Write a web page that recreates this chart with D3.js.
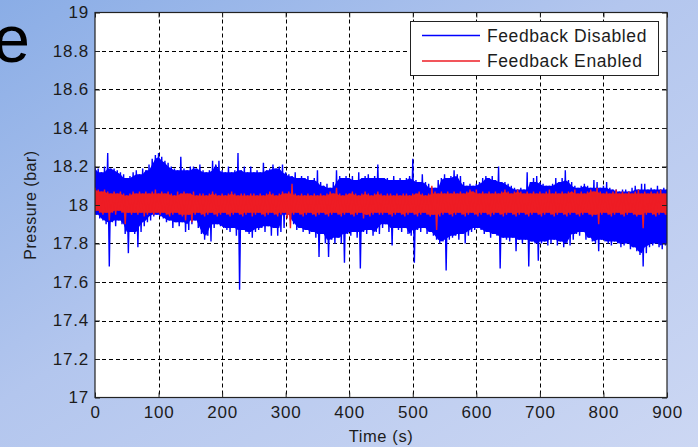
<!DOCTYPE html>
<html>
<head>
<meta charset="utf-8">
<script src="https://cdn.jsdelivr.net/npm/d3@7"></script>
<style>
  html, body { margin: 0; padding: 0; }
  body { width: 698px; height: 447px; overflow: hidden; }
  text { font-family: Arial, "Liberation Sans", sans-serif; }
</style>
</head>
<body>
<div id="chart"></div>
<script>
// sample times (s), one bin every 5 s
const sampleTimes = d3.range(0, 901, 5);

// feedback disabled: upper / lower envelope per 5 s bin (bar)
const disabledHi = [
  18.20, 18.19, 18.17, 18.20, 18.27, 18.19, 18.19, 18.18, 18.17, 18.16,
  18.14, 18.15, 18.17, 18.18, 18.16, 18.19, 18.18, 18.21, 18.24, 18.26,
  18.27, 18.25, 18.23, 18.22, 18.20, 18.19, 18.18, 18.25, 18.19, 18.18,
  18.20, 18.20, 18.19, 18.21, 18.18, 18.17, 18.18, 18.23, 18.21, 18.23,
  18.18, 18.17, 18.20, 18.17, 18.18, 18.27, 18.18, 18.20, 18.17, 18.20,
  18.17, 18.18, 18.17, 18.22, 18.18, 18.19, 18.21, 18.19, 18.20, 18.21,
  18.17, 18.16, 18.15, 18.17, 18.14, 18.15, 18.14, 18.15, 18.13, 18.14,
  18.18, 18.12, 18.10, 18.11, 18.09, 18.12, 18.18, 18.15, 18.14, 18.15,
  18.14, 18.15, 18.13, 18.17, 18.14, 18.15, 18.16, 18.14, 18.15, 18.21,
  18.14, 18.14, 18.14, 18.13, 18.15, 18.13, 18.14, 18.13, 18.14, 18.15,
  18.24, 18.13, 18.12, 18.16, 18.12, 18.11, 18.09, 18.09, 18.13, 18.14,
  18.16, 18.14, 18.15, 18.18, 18.16, 18.15, 18.12, 18.10, 18.11, 18.10,
  18.11, 18.12, 18.14, 18.15, 18.14, 18.15, 18.13, 18.20, 18.12, 18.12,
  18.11, 18.10, 18.09, 18.08, 18.09, 18.08, 18.17, 18.12, 18.14, 18.15,
  18.12, 18.11, 18.10, 18.10, 18.11, 18.14, 18.12, 18.14, 18.18, 18.13,
  18.12, 18.10, 18.09, 18.10, 18.11, 18.10, 18.09, 18.13, 18.12, 18.09,
  18.10, 18.12, 18.09, 18.08, 18.08, 18.07, 18.08, 18.08, 18.07, 18.09,
  18.10, 18.08, 18.11, 18.11, 18.08, 18.09, 18.08, 18.10, 18.08, 18.09,
  18.08
];
const disabledLo = [
  17.95, 17.93, 17.92, 17.90, 17.68, 17.91, 17.89, 17.92, 17.90, 17.85,
  17.75, 17.86, 17.85, 17.78, 17.86, 17.89, 17.91, 17.92, 17.94, 17.95,
  17.94, 17.93, 17.91, 17.92, 17.88, 17.91, 17.89, 17.91, 17.86, 17.87,
  17.90, 17.92, 17.88, 17.85, 17.82, 17.84, 17.81, 17.88, 17.90, 17.89,
  17.88, 17.87, 17.86, 17.88, 17.84, 17.56, 17.87, 17.86, 17.85, 17.83,
  17.86, 17.87, 17.88, 17.86, 17.89, 17.84, 17.88, 17.84, 17.86, 17.88,
  17.95, 17.92, 17.90, 17.87, 17.88, 17.86, 17.87, 17.85, 17.86, 17.83,
  17.73, 17.85, 17.80, 17.73, 17.82, 17.80, 17.83, 17.80, 17.70, 17.85,
  17.84, 17.86, 17.83, 17.67, 17.86, 17.85, 17.87, 17.84, 17.86, 17.85,
  17.88, 17.90, 17.86, 17.79, 17.88, 17.87, 17.86, 17.88, 17.85, 17.84,
  17.70, 17.87, 17.86, 17.88, 17.85, 17.86, 17.84, 17.82, 17.80, 17.81,
  17.66, 17.82, 17.83, 17.84, 17.82, 17.85, 17.80, 17.84, 17.86, 17.87,
  17.88, 17.87, 17.85, 17.86, 17.83, 17.85, 17.84, 17.67, 17.83, 17.82,
  17.81, 17.83, 17.76, 17.82, 17.80, 17.82, 17.68, 17.81, 17.80, 17.71,
  17.80, 17.81, 17.79, 17.80, 17.82, 17.79, 17.81, 17.78, 17.80, 17.79,
  17.82, 17.85, 17.84, 17.86, 17.82, 17.83, 17.81, 17.80, 17.76, 17.82,
  17.81, 17.80, 17.79, 17.81, 17.80, 17.78, 17.79, 17.80, 17.77, 17.78,
  17.76, 17.74, 17.68, 17.75, 17.78, 17.79, 17.80, 17.78, 17.77, 17.79,
  17.80
];

// feedback enabled: upper / lower envelope per 5 s bin (bar)
const enabledHi = [
  18.09, 18.08, 18.07, 18.08, 18.07, 18.06, 18.07, 18.06, 18.07, 18.06,
  18.05, 18.06, 18.07, 18.06, 18.07, 18.06, 18.07, 18.06, 18.07, 18.08,
  18.06, 18.07, 18.06, 18.07, 18.06, 18.05, 18.07, 18.06, 18.07, 18.06,
  18.06, 18.07, 18.05, 18.06, 18.06, 18.05, 18.06, 18.07, 18.06, 18.05,
  18.06, 18.05, 18.06, 18.07, 18.06, 18.05, 18.06, 18.06, 18.05, 18.06,
  18.06, 18.05, 18.06, 18.05, 18.06, 18.07, 18.06, 18.05, 18.06, 18.07,
  18.06, 18.07, 18.11, 18.06, 18.05, 18.06, 18.05, 18.06, 18.05, 18.06,
  18.05, 18.06, 18.05, 18.06, 18.07, 18.06, 18.09, 18.06, 18.05, 18.06,
  18.06, 18.07, 18.06, 18.05, 18.06, 18.07, 18.06, 18.05, 18.06, 18.07,
  18.06, 18.05, 18.06, 18.06, 18.05, 18.06, 18.05, 18.06, 18.06, 18.05,
  18.06, 18.06, 18.07, 18.06, 18.05, 18.06, 18.10, 18.07, 18.06, 18.07,
  18.06, 18.07, 18.06, 18.07, 18.06, 18.07, 18.06, 18.07, 18.08, 18.07,
  18.08, 18.06, 18.07, 18.06, 18.07, 18.06, 18.07, 18.06, 18.07, 18.08,
  18.07, 18.06, 18.07, 18.08, 18.07, 18.06, 18.07, 18.06, 18.07, 18.06,
  18.07, 18.06, 18.07, 18.08, 18.06, 18.07, 18.06, 18.07, 18.06, 18.07,
  18.07, 18.08, 18.06, 18.07, 18.06, 18.07, 18.08, 18.07, 18.09, 18.07,
  18.06, 18.07, 18.06, 18.07, 18.08, 18.06, 18.07, 18.06, 18.07, 18.06,
  18.07, 18.08, 18.06, 18.07, 18.06, 18.07, 18.06, 18.07, 18.08, 18.06,
  18.06
];
const enabledLo = [
  17.97, 17.96, 17.95, 17.96, 17.92, 17.96, 17.95, 17.97, 17.96, 17.90,
  17.96, 17.95, 17.96, 17.95, 17.96, 17.94, 17.95, 17.96, 17.95, 17.96,
  17.95, 17.96, 17.95, 17.94, 17.95, 17.96, 17.95, 17.94, 17.92, 17.95,
  17.91, 17.95, 17.96, 17.95, 17.94, 17.95, 17.96, 17.95, 17.94, 17.95,
  17.96, 17.95, 17.94, 17.95, 17.96, 17.95, 17.94, 17.95, 17.96, 17.94,
  17.95, 17.96, 17.95, 17.94, 17.95, 17.96, 17.95, 17.94, 17.95, 17.96,
  17.93, 17.88, 17.95, 17.96, 17.95, 17.94, 17.95, 17.96, 17.95, 17.94,
  17.95, 17.96, 17.95, 17.94, 17.95, 17.96, 17.95, 17.94, 17.95, 17.96,
  17.95, 17.94, 17.95, 17.96, 17.93, 17.95, 17.94, 17.95, 17.96, 17.95,
  17.95, 17.96, 17.95, 17.94, 17.95, 17.96, 17.95, 17.94, 17.95, 17.96,
  17.95, 17.94, 17.95, 17.96, 17.95, 17.94, 17.95, 17.87, 17.94, 17.95,
  17.96, 17.95, 17.94, 17.95, 17.96, 17.95, 17.94, 17.95, 17.96, 17.95,
  17.94, 17.95, 17.96, 17.95, 17.94, 17.95, 17.96, 17.95, 17.94, 17.95,
  17.96, 17.95, 17.94, 17.95, 17.96, 17.95, 17.94, 17.95, 17.96, 17.95,
  17.94, 17.95, 17.96, 17.95, 17.94, 17.95, 17.96, 17.95, 17.94, 17.95,
  17.96, 17.95, 17.94, 17.95, 17.96, 17.95, 17.94, 17.95, 17.90, 17.95,
  17.96, 17.95, 17.94, 17.95, 17.96, 17.95, 17.94, 17.95, 17.96, 17.95,
  17.94, 17.95, 17.88, 17.95, 17.96, 17.95, 17.94, 17.95, 17.96, 17.95,
  17.95
];

const xTicks = [0, 100, 200, 300, 400, 500, 600, 700, 800, 900];
const yTicks = [17, 17.2, 17.4, 17.6, 17.8, 18, 18.2, 18.4, 18.6, 18.8, 19];
const seriesNames = ['Feedback Disabled', 'Feedback Enabled'];
const seriesColors = ['#0000ff', '#ee1c24'];

const width = 698;
const height = 447;
const plot = { left: 95, right: 667, top: 12.5, bottom: 397.5 };
const textColor = '#1c1c1c';

const svg = d3.select('#chart')
  .append('svg')
  .attr('width', width)
  .attr('height', height);

// slide background
const defs = svg.append('defs');
const grad = defs.append('linearGradient')
  .attr('id', 'bg')
  .attr('x1', 0).attr('y1', 0).attr('x2', 1).attr('y2', 1);
grad.append('stop').attr('offset', '0%').attr('stop-color', '#8aade6');
grad.append('stop').attr('offset', '45%').attr('stop-color', '#b3c6ee');
grad.append('stop').attr('offset', '100%').attr('stop-color', '#ccd7f3');

svg.append('rect')
  .attr('width', width)
  .attr('height', height)
  .attr('fill', 'url(#bg)');

// tail of the slide title
svg.append('text')
  .attr('x', 30)
  .attr('y', 62)
  .attr('text-anchor', 'end')
  .style('font-size', '66px')
  .attr('fill', '#000')
  .text('e');

defs.append('clipPath')
  .attr('id', 'clip')
  .append('rect')
  .attr('x', plot.left)
  .attr('y', plot.top)
  .attr('width', plot.right - plot.left)
  .attr('height', plot.bottom - plot.top);

const x = d3.scaleLinear().domain([0, 900]).range([plot.left, plot.right]);
const y = d3.scaleLinear().domain([17, 19]).range([plot.bottom, plot.top]);

svg.append('rect')
  .attr('x', plot.left)
  .attr('y', plot.top)
  .attr('width', plot.right - plot.left)
  .attr('height', plot.bottom - plot.top)
  .attr('fill', '#fff');

// dashed grid
const grid = svg.append('g')
  .attr('stroke', '#000')
  .attr('stroke-width', 1)
  .attr('stroke-dasharray', '4,3');

grid.selectAll('.gx')
  .data(xTicks.slice(1, -1))
  .enter()
  .append('line')
  .attr('x1', d => Math.round(x(d)) + 0.5)
  .attr('x2', d => Math.round(x(d)) + 0.5)
  .attr('y1', plot.top)
  .attr('y2', plot.bottom);

grid.selectAll('.gy')
  .data(yTicks.slice(1, -1))
  .enter()
  .append('line')
  .attr('y1', d => Math.round(y(d)) + 0.5)
  .attr('y2', d => Math.round(y(d)) + 0.5)
  .attr('x1', plot.left)
  .attr('x2', plot.right);

// zigzag between the upper and lower envelope of each bin
const toPoints = (hi, lo) => {
  const pts = [];
  sampleTimes.forEach((t, i) => {
    pts.push([t, hi[i]]);
    pts.push([Math.min(t + 2.5, 900), lo[i]]);
  });
  return pts;
};

// solid core of the trace: the part every neighbouring bin covers
const toCore = (hi, lo) => sampleTimes.map((t, i) => {
  const a = Math.max(0, i - 1), b = Math.min(hi.length - 1, i + 1);
  return {
    t,
    top: d3.min(hi.slice(a, b + 1)),
    bottom: d3.max(lo.slice(a, b + 1))
  };
});

const line = d3.line()
  .x(d => x(d[0]))
  .y(d => y(d[1]));

const area = d3.area()
  .x(d => x(d.t))
  .y0(d => y(d.bottom))
  .y1(d => y(d.top));

const traces = svg.append('g').attr('clip-path', 'url(#clip)');

[[disabledHi, disabledLo], [enabledHi, enabledLo]].forEach(([hi, lo], k) => {
  traces.append('path')
    .datum(toCore(hi, lo))
    .attr('d', area)
    .attr('fill', seriesColors[k]);

  traces.append('path')
    .datum(toPoints(hi, lo))
    .attr('d', line)
    .attr('fill', 'none')
    .attr('stroke', seriesColors[k])
    .attr('stroke-width', 1.4);
});

// inner ticks on all four sides
const xAxisB = d3.axisBottom(x).tickValues(xTicks).tickSize(-5).tickPadding(8.5).tickFormat(d3.format('d'));
const xAxisT = d3.axisTop(x).tickValues(xTicks).tickSize(-5).tickFormat('');
const yAxisL = d3.axisLeft(y).tickValues(yTicks).tickSize(-5).tickPadding(6).tickFormat(d => d3.format('.1~f')(d));
const yAxisR = d3.axisRight(y).tickValues(yTicks).tickSize(-5).tickFormat('');

const styleAxis = g => {
  g.select('.domain').remove();
  g.selectAll('line').attr('stroke', '#222');
  g.selectAll('text')
    .attr('fill', textColor)
    .style('font-size', '17px')
    .style('letter-spacing', '0.8px')
    .style('font-family', 'Arial, "Liberation Sans", sans-serif');
};

svg.append('g').attr('transform', `translate(0,${plot.bottom})`).call(xAxisB).call(styleAxis);
svg.append('g').attr('transform', `translate(0,${plot.top})`).call(xAxisT).call(styleAxis);
svg.append('g').attr('transform', `translate(${plot.left},0)`).call(yAxisL).call(styleAxis);
svg.append('g').attr('transform', `translate(${plot.right},0)`).call(yAxisR).call(styleAxis);

svg.append('rect')
  .attr('x', plot.left)
  .attr('y', plot.top)
  .attr('width', plot.right - plot.left)
  .attr('height', plot.bottom - plot.top)
  .attr('fill', 'none')
  .attr('stroke', '#222')
  .attr('stroke-width', 1.2);

// axis titles
svg.append('text')
  .attr('x', x(450))
  .attr('y', 442)
  .attr('text-anchor', 'middle')
  .attr('fill', textColor)
  .style('font-size', '16.5px')
  .style('letter-spacing', '0.6px')
  .text('Time (s)');

svg.append('text')
  .attr('transform', `translate(36, ${y(18)}) rotate(-90)`)
  .attr('text-anchor', 'middle')
  .attr('fill', textColor)
  .style('font-size', '16px')
  .style('letter-spacing', '0.5px')
  .text('Pressure (bar)');

// legend
const legend = svg.append('g');
legend.append('rect')
  .attr('x', 410.5)
  .attr('y', 21.5)
  .attr('width', 248)
  .attr('height', 54)
  .attr('fill', '#fff')
  .attr('stroke', '#222')
  .attr('stroke-width', 1);

const items = legend.selectAll('.item')
  .data(seriesNames)
  .enter()
  .append('g')
  .attr('transform', (d, i) => `translate(0, ${35.5 + i * 25.5})`);

items.append('line')
  .attr('x1', 422)
  .attr('x2', 480)
  .attr('stroke', (d, i) => seriesColors[i])
  .attr('stroke-width', 1.3);

items.append('text')
  .attr('x', 487)
  .attr('y', 6)
  .attr('fill', textColor)
  .style('font-size', '17.5px')
  .style('letter-spacing', '0.6px')
  .text(d => d);
</script>
</body>
</html>
